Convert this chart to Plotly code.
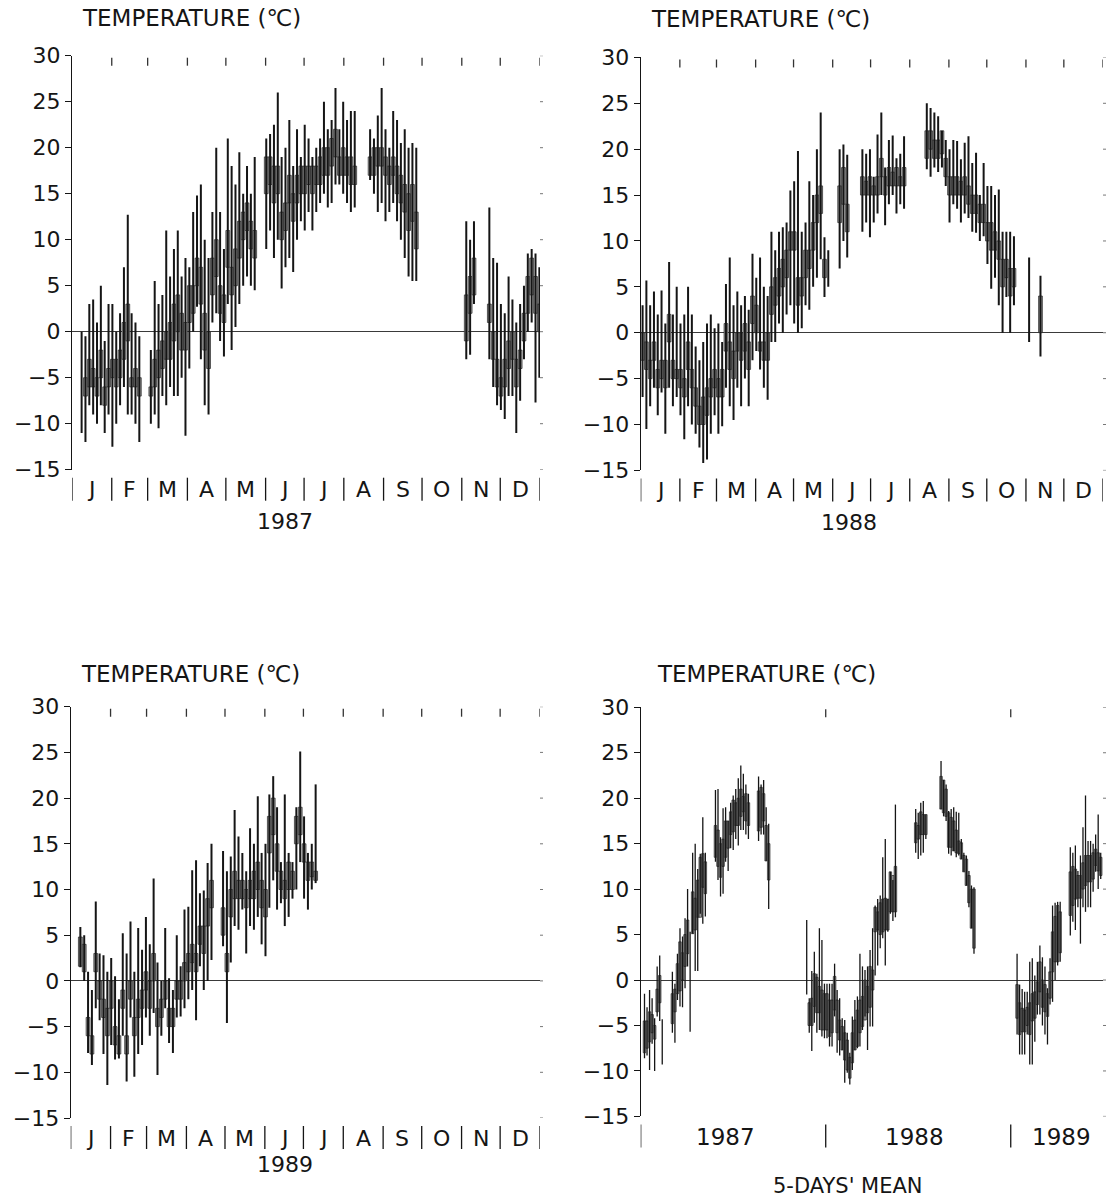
import plotly.graph_objects as go

N = None
W, H = 1111, 1201

# ---------------- data ----------------
Y_TICKS = [30, 25, 20, 15, 10, 5, 0, -5, -10, -15]
MONTH_LETTERS = ["J", "F", "M", "A", "M", "J", "J", "A", "S", "O", "N", "D"]
MONTH_DAYS_1987 = [31, 28, 31, 30, 31, 30, 31, 31, 30, 31, 30, 31]
MONTH_DAYS_1988 = [31, 29, 31, 30, 31, 30, 31, 31, 30, 31, 30, 31]
MONTH_DAYS_1989 = [31, 28, 31, 30, 31, 30, 31, 31, 30, 31, 30, 31]
YEARS = ["1987", "1988", "1989"]
TITLE = "TEMPERATURE (℃)"
MEAN_LABEL = "5-DAYS' MEAN"
DAY_STEP = 3            # days represented by one bar in the daily panels
PERIODS_PER_YEAR = 73   # 5-day periods per year

# rows: (max, min, box top, box bottom) in degC, one row per 3 days; None = no record
daily_1987 = [
    N, N, (0, -11, N, N), (-0.5, -12, -5, -7), (3, -8, -3, -6), (3.5, -9, -4, -6), (1, -10, -5, -7), (5, -8, -2, -5), (-1, -11, -6, -8), (3, -9, -4, -6),
    (3, -12.5, -3, -5), (0, -10, -3, -6), (2, -8, -2, -5), (7, -6, 1, -3), (12.7, -9, 3, -1), (2, -9, -5, -6), (1, -10, -4, -6), (-0.5, -12, -5, -7), N, N,
    (-2, -10, -6, -7), (5.5, -9, -3, -6), (3, -10.5, -2, -5), (4, -7, -1, -4), (11, -8, 0, -3), (6, -6, 1, -3), (9, -7, 3, -1), (11, -7, 4, 0), (6, -5, 2, -2), (8, -11.3, 1, -2),
    (7, -4, 5, 1), (13, 0, 5, 2), (14.8, 2.7, 8, 5), (16, -3, 7, 3), (10, -8, 2, -2), (8, -9, 0, -4), (13, 1, 8, 4), (20, 2, 10, 6), (13, -1, 5, 2), (9, -2.7, 4, 1),
    (21, 3, 11, 7), (18, -2, 7, 4), (16, 0.5, 9, 5), (19.5, 3, 12, 8), (15, 5, 13, 10), (18, 6, 14, 11), (15, 5, 12, 9), (19, 4.5, 11, 8), N, N,
    (21, 9, 19, 15), (21.5, 11, 19, 16), (22.5, 8, 18, 14), (26, 10, 18, 15), (19, 4.7, 13, 10), (20, 7, 14, 11), (23, 8, 17, 14), (18, 6.5, 15, 12), (22, 10, 17, 14), (19, 12, 18, 15),
    (22.5, 11, 18, 15), (21, 13, 18, 16), (19, 11, 18, 15), (20, 13, 18, 16), (21, 14, 19, 16), (25, 15, 20, 17), (22, 13.5, 20, 17), (23, 14, 21, 18), (26.5, 16, 22, 19), (22, 16, 19, 17),
    (25, 15, 20, 17), (23, 14, 19, 17), (24, 13, 19, 16), (24, 13.5, 18, 16), N, N, N, (22, 16.5, 19, 17), (21, 15, 20, 17), (23.5, 13, 20, 18),
    (26.5, 14, 20, 18), (22, 12, 19, 17), (20, 13, 18, 16), (24, 14, 19, 17), (23, 12, 18, 15), (20.5, 10, 17, 14), (22, 8, 16, 13), (20, 6, 15, 11), (20.5, 5.5, 16, 12), (20, 5.5, 13, 9),
    N, N, N, N, N, N, N, N, N, N,
    N, N, (12, -3, 4, -1), (10, -2.5, 6, 2), (12, 3, 8, 4), N, N, N, (13.5, -3, 3, 1), (8, -6, 0, -3),
    (7.5, -8, -3, -6), (3, -8.5, -5, -7), (2, -9.5, -3, -6), (6, -7, -1, -4), (3.5, -7, 0, -3), (1, -11, -3, -6), (3, -7.5, -2, -4), (5, -3, 2, -1), (8.5, 0, 6, 2), (9, 1, 8, 4),
    (8.5, -7.7, 6, 2), (7, -5, 3, 0),
]

daily_1988 = [
    (3, -7, 0, -3), (5.7, -10.5, -1, -4), (3, -8, -3, -5), (4.5, -6, -1, -3), (2, -9, -4, -6), (4.6, -6.5, -3, -5), (1, -11, -3, -6), (7.7, -6, 2, -1), (2, -8, -3, -5), (5, -7, -4, -5),
    (1, -9, -4, -6), (2, -11.6, -5, -7), (5, -8, -1, -4), (2, -10, -4, -6), (-1.5, -11, -6, -8), (-3, -12.5, -8, -10), (-1, -14.2, -7, -10), (1, -13.8, -6, -9), (2, -11, -5, -7), (0.5, -9, -4, -6),
    (1, -11, -5, -7), (-1, -10.2, -4, -7), (5.3, -6, 1, -2), (8.2, -8, -1, -4), (3, -9.5, -2, -5), (4.5, -6, 0, -2), (3, -8, 0, -3), (4, -5, 1, -2), (2.5, -8, -1, -4), (8.6, -3, 4, 1),
    (6, -2, 3, 0), (8.2, -4, -1, -2), (5, -6, -1, -3), (4, -7.3, 0, -3), (11, -1, 5, 2), (9, -1, 6, 3), (11, 1, 7, 4), (11.5, 0, 8, 5), (12, 2, 9, 6), (15.5, 3, 11, 9),
    (16.5, 1, 11, 9), (19.8, 0, 6, 3), (11, 0.5, 6, 4), (12, 3, 9, 6), (16.5, 2.5, 9, 7), (15, 5, 12, 9), (20, 6, 15, 12), (24, 8, 16, 13), (10.4, 3.9, 8, 6), (9, 5, N, N),
    N, N, (20, 7, 16, 12), (20.5, 10, 18, 14), (19.4, 8.2, 14, 11), N, N, N, (20, 11, 17, 15), (19.5, 12, 16.5, 15),
    (20, 10.4, 17, 15), (17, 12, 16, 15), (21.6, 13, 17, 15), (24, 15, 19, 17), (18, 11.7, 17, 15), (21, 14, 18, 16), (21.5, 15, 17.5, 16), (19, 13, 18, 16), (19.5, 14, 17, 16), (21.4, 13.5, 18, 16),
    N, N, N, N, N, (25, 17.8, 22, 19), (24.5, 17, 22, 20), (24, 18, 21, 19), (23.6, 17.5, 21, 19), (22, 18, 22, 19.5),
    (21, 16, 19, 17), (20, 12, 17, 15), (21, 14, 17, 15), (20.9, 13.5, 17, 15), (18.9, 12, 16.5, 15), (20.7, 13, 17, 15), (21.4, 12.5, 16, 14), (18.5, 11, 15, 13), (19.6, 10.9, 15, 13), (15, 10, 14, 12),
    (18.5, 10.5, 14, 12), (16, 7.5, 12, 10), (16, 4.8, 12, 9), (15, 6, 11, 9), (15.6, 3, 10, 8), (11, 0, 8, 5), (11, 3.9, 8, 6), (11, 0, 7, 4), (10.5, 3, 7, 5), N,
    N, N, (8.2, -1, N, N), N, N, (6.2, -2.6, 4, 0), N, N, N, N,
]

daily_1989 = [
    N, N, (5.9, 1.5, 4.8, 1.6), (5, 0, 4, 1), (1, -7.9, -4, -6), (-1, -9.2, -6, -8), (8.7, -3, 3, 1), (3, -4.3, 0, -2), (2.8, -8, -2, -4), (1, -11.4, -3, -6),
    (2.5, -7, 0, -3), (0.5, -8.6, -5, -7), (-2, -8.5, -6, -8), (5.2, -6, -1, -3), (3, -11, -6, -8), (6.5, -4, 0, -2), (1, -10.5, -4, -6), (5.8, -8, -2, -4), (3.4, -7, -1, -3), (7, -4, 1, -1),
    (4, -6, 0, -3), (11.2, -3.5, 3, 0), (2, -10.3, -3, -5), (0, -6, -2, -4), (5.8, -3, 0, -2), (0.3, -6.8, -3, -5), (-1, -7.9, -3, -5), (5, -4, 0, -2), (1.6, -3.9, 0, -2), (7.8, -3, 2, 0),
    (8.1, -2, 3, 1), (12.1, -1, 4, 2), (13.2, -4.3, 3, 1), (9.6, 1.6, 6, 4), (9.9, -1, 6, 3), (12.9, 0, 9, 6), (15, 2.3, 11, 8), N, N, (14.2, 3.8, 8, 5),
    (12, -4.6, 3, 1), (13.6, 2, 10, 7), (18.7, 6, 12, 9), (15.8, 5.6, 11, 9), (14, 7.8, 11, 9), (12, 3, 10, 8), (16.7, 6, 11, 9), (15, 5.6, 12, 9), (20.2, 7, 13, 10), (14, 4, 11, 8),
    (15, 2.7, 10, 7), (20.4, 8, 18, 14), (22.4, 11, 20, 16), (19, 7.8, 15, 12), (13, 8.5, 12, 10), (20.4, 6, 11, 9), (14, 7, 13, 10), (13, 9, 12, 10), (19, 10, 18, 15), (25.1, 13, 19, 16),
    (18, 9, 15, 13), (14, 7.8, 13, 11), (15, 10, 13, 11.4), (21.5, 10.7, 12, 11),
]

# 5-day means: (max, min, box top, box bottom), one row per 5-day period
mean5_1987 = [
    N, (-1.5, -8.6, -4.5, -8), (-3, -8.3, -4.5, -7.5), (-1.1, -9.9, -3.5, -6.8), (-2, -7, -3.8, -5.8), (-4.2, -10, -5, -6.5), (1.5, -4, -1, -3.5), (2.7, -4.5, 0.5, -2.5), (-4.3, -9.3, N, N), N,
    N, N, (0.9, -5.8, -1.5, -4.8), (-0.4, -6.9, -1, -3.5), (2.9, -2.2, 1.8, -1.5), (5.7, -2.9, 4.2, -1.2), (4.8, -3, 3, 0), (6.8, -0.9, 5, 1.5), (10, 1.5, 6.6, 2.9), (5.3, -5.7, N, N),
    (14, 5.1, 9.7, 5.1), (15, 1, 9, 5.5), (12.2, 1, 11, 6.9), (13.9, 7.3, 13.5, 6.9), (17.9, 6.2, 13.9, 10.2), (14, 7, 13, 9.5), N, N, N, (20.9, 13, 17, 13.5),
    (21, 11, 16.5, 12.5), (15.7, 9.2, 15, 11.3), (18.9, 9.5, 15.5, 12.5), (19, 13, 17.5, 13.5), (17.5, 12, 17.5, 14.5), (19.5, 14.5, 18.5, 16), (20.3, 14.3, 19.8, 16.3), (21, 15.5, 19.5, 17), (22.2, 14.8, 20, 17), (23.6, 16.5, 21, 18),
    (22.7, 16.5, 20.2, 18.5), (21.5, 16, 20.5, 17.5), (20.5, 15.5, 19.5, 17), N, N, N, (22.4, 15.3, 20.8, 16.4), (21.5, 16, 21.2, 16.8), (22, 16, 20.5, 17.5), (19, 13.1, 17, 13.1),
    (17.2, 7.8, 15, 11), N, N, N, N, N, N, N, N, N,
    N, N, N, N, N, (6.6, -1.6, N, N), (-2, -5.8, -2.5, -5), (1, -7.8, -2, -5), (3.1, -4.7, 0.7, -2.9), (0.7, -5.8, 0.3, -3.6),
    (5.7, -5.5, -0.7, -3.6), (4.4, -6.2, -1.1, -5.5), (-0.4, -6.4, -1.5, -5.5),
]

mean5_1988 = [
    (-0.4, -6.4, -1.5, -5.5), (-0.4, -7.3, -2.2, -6.2), (-0.4, -7.3, -2.2, -5.8), (1.8, -4, 0.4, -3.3), (-1.1, -8, -2.2, -5.8), (-2, -8.3, -4.4, -6.6), (-4.2, -7.7, -5.1, -7.7), (-4.4, -11.3, -5.8, -8.8), (-5.8, -10.2, -6.6, -9.9), (-8, -11.5, -8.5, -10.8),
    (-4, -9.9, -5.8, -9.1), (-2.2, -7.7, -4.4, -7.7), (-1.8, -7.5, -3.3, -7.3), (2.9, -7.3, -2.2, -5.8), (1.5, -5.5, -1.8, -5.1), (1.1, -4, 0, -4.4), (1.5, -7.7, -0.7, -3.6), (3.3, -5.1, 1.5, -3), (5.7, -5.1, 1.1, -1.1), (8.2, 0.5, 8, 5.3),
    (8.9, 1.6, 7.5, 5.5), (9.3, 3.5, 8.5, 5), (13.5, 4.6, 8.9, 5.3), (15.5, 1.6, 9, 5.5), (8.9, 5.3, 8.9, 5.5), (11.9, 7.3, 11.9, 7.5), (11, 6.5, 11.5, 7.5), (19.3, 6.9, 12.5, 7.5), N, N,
    N, N, N, N, N, (18.8, 14, 17.3, 15.1), (18.4, 13.3, 17, 15.5), (19.5, 13.7, 18.5, 16), (19.7, 14, 18.2, 16), (18.2, 15.5, 18.2, 16),
    N, N, N, N, N, (24.1, 18.8, 22.4, 18.8), (22, 18, 22, 18.4), (21.5, 17.5, 21, 18), (18.6, 13.9, 18.4, 14.6), (18.8, 13.7, 17.9, 14.6),
    (19, 14.2, 17.5, 14.2), (18.5, 13.5, 16.5, 14), (18.4, 13.7, 15.3, 13.9), (15.5, 13.3, 15.1, 13.3), (14, 11.9, 13.7, 11.9), (13.7, 10.4, 13.3, 10.4), (12, 8, 11.5, 8.5), (10.4, 5.7, 10, 5.7), (10.2, 2.9, 10, 3.5), N,
    N, N, N, N, N, N, N, N, N, N,
    N, N, N,
]

mean5_1989 = [
    N, N, (2.9, -6, -0.5, -4.2), (-0.5, -8.2, -2.5, -6), (-1, -8.2, -3.1, -5.7), (-1.3, -8.2, -3.3, -5.7), (-1.3, -6, -3, -5), (2, -9.3, -2.5, -6), (2.4, -9.3, -1.5, -4.5), (0.5, -6.8, -1.3, -4.2),
    (2, -3.8, -0.2, -2.7), (3.8, -3.8, 2, -1.3), (2.5, -5, 0, -3), (1.5, -6, -0.5, -3.5), (-0.9, -7.1, -1.5, -4), (2.4, -2.7, 0.9, -2), (8.2, -2.4, 5.3, 0.9), (8.5, 0, 7, 2), (8.6, 1.6, 8.2, 2), (8.6, 2, 7.5, 3),
    N, N, N, (14.6, 4.9, 11.9, 7.1), (14, 6.4, 12.5, 8.2), (14.8, 5.5, 12.2, 8.9), (12, 8, 11.5, 9), (13.7, 4, 11.5, 9), (16.8, 8, 12.9, 10), (20.3, 7.5, 13.7, 10.4),
    (15.3, 8, 13.7, 10.8), (15.3, 8, 13.7, 10.8), (15, 9.7, 14, 11.1), (16, 11.9, 14.4, 12.6), (18.2, 10, 14, 12), (14, 11.1, 13.5, 11.5), N,
]

# ---------------- styling / layout ----------------
INK = "#151515"
GRAY = "#9a9a9a"
EDGE = "#222222"
FONT = "DejaVu Sans"

# pixel boxes of the four plotting areas: (left, right, top(30C), bottom(-15C))
PANELS = [
    (72.0, 540.0, 55.7, 469.7),
    (640.7, 1103.0, 57.4, 470.4),
    (70.7, 540.0, 706.7, 1118.0),
    (640.7, 1103.0, 707.3, 1116.4),
]


def fx(px):
    return px / W


def fy(py):
    return 1 - py / H


fig = go.Figure()


def add_series(rows, xs, idx, box_width, lw, edge_w):
    sfx = "" if idx == 1 else str(idx)
    lx, ly, bx, bb, bh = [], [], [], [], []
    for x, r in zip(xs, rows):
        if r is None:
            continue
        hi, lo, top, bot = r
        lx += [x, x, None]
        ly += [lo, hi, None]
        if top is not None:
            bx.append(x)
            bb.append(bot)
            bh.append(top - bot)
    fig.add_trace(go.Bar(x=bx, y=bh, base=bb, width=box_width,
                         marker=dict(color=GRAY, line=dict(color=EDGE, width=edge_w)),
                         xaxis="x" + sfx, yaxis="y" + sfx, hoverinfo="skip", showlegend=False))
    fig.add_trace(go.Scatter(x=lx, y=ly, mode="lines", line=dict(color=INK, width=lw),
                             xaxis="x" + sfx, yaxis="y" + sfx, hoverinfo="skip", showlegend=False))


def cumulative(days):
    c = [0]
    for d in days:
        c.append(c[-1] + d)
    return c


daily_sets = [(daily_1987, MONTH_DAYS_1987), (daily_1988, MONTH_DAYS_1988), (daily_1989, MONTH_DAYS_1989)]
for k, (rows, mdays) in enumerate(daily_sets):
    xs = [i * DAY_STEP + DAY_STEP / 2 for i in range(len(rows))]
    add_series(rows, xs, k + 1, DAY_STEP, 2.0, 0.7)

for k, rows in enumerate([mean5_1987, mean5_1988, mean5_1989]):
    xs = [k * PERIODS_PER_YEAR + p + 0.5 for p in range(len(rows))]
    add_series(rows, xs, 4, 1.0, 1.3, 0.7)

layout = dict(template="none", width=W, height=H, autosize=False,
              margin=dict(l=0, r=0, t=0, b=0, pad=0, autoexpand=False),
              paper_bgcolor="white", plot_bgcolor="white", showlegend=False,
              barmode="overlay", font=dict(family=FONT, color=INK))

annotations = []
shapes = []

x_ranges = [
    [0, sum(MONTH_DAYS_1987)],
    [0, sum(MONTH_DAYS_1988)],
    [0, sum(MONTH_DAYS_1989)],
    [0, 182.4],
]

for i, (l, r, t, b) in enumerate(PANELS):
    n = i + 1
    sfx = "" if n == 1 else str(n)
    xr = x_ranges[i]
    layout["xaxis" + sfx] = dict(domain=[fx(l), fx(r)], anchor="y" + sfx, range=xr,
                                 showline=False, ticks="", showticklabels=False, automargin=False,
                                 showgrid=False, zeroline=False, fixedrange=True)
    layout["yaxis" + sfx] = dict(domain=[fy(b), fy(t)], anchor="x" + sfx, range=[-15, 30],
                                 tickvals=Y_TICKS, ticks="outside", ticklen=6, tickwidth=1.2,
                                 tickcolor=INK, showline=True, linecolor=INK, linewidth=1.3,
                                 zeroline=True, zerolinecolor="#3a3a3a", zerolinewidth=1.1,
                                 showgrid=False, automargin=False,
                                 tickfont=dict(size=22, family=FONT, color=INK),
                                 fixedrange=True)
    # top ticks at month / year boundaries
    if n <= 3:
        cum = cumulative(daily_sets[i][1])
        top_vals = cum[1:]
    else:
        top_vals = [PERIODS_PER_YEAR, 2 * PERIODS_PER_YEAR]
    for v in top_vals:
        shapes.append(dict(type="line", xref="x" + sfx, yref="paper", x0=v, x1=v,
                           y0=fy(t + 2), y1=fy(t + 10), line=dict(color="#333", width=1.3)))
    # small marks on the right edge
    for v in Y_TICKS:
        shapes.append(dict(type="line", xref="paper", yref="y" + sfx, x0=fx(r), x1=fx(r + 3),
                           y0=v, y1=v, line=dict(color="#777", width=1)))
    # title
    annotations.append(dict(text=TITLE, xref="paper", yref="paper",
                            x=fx(l + (8 if n != 4 else 14)), y=fy(t - (38 if n <= 2 else 33)),
                            xanchor="left", yanchor="middle", showarrow=False,
                            font=dict(size=23, family=FONT, color=INK)))
    sep_top, sep_bot = b + 8, b + 31
    if n <= 3:
        cum = cumulative(daily_sets[i][1])
        for m in range(13):
            shapes.append(dict(type="line", xref="x" + sfx, yref="paper", x0=cum[m], x1=cum[m],
                               y0=fy(sep_top), y1=fy(sep_bot), line=dict(color=INK, width=1.3)))
        for m in range(12):
            annotations.append(dict(text=MONTH_LETTERS[m], xref="x" + sfx, yref="paper",
                                    x=(cum[m] + cum[m + 1]) / 2, y=fy(b + 20), xanchor="center",
                                    yanchor="middle", showarrow=False,
                                    font=dict(size=22, family=FONT, color=INK)))
        annotations.append(dict(text=YEARS[i], xref="paper", yref="paper", x=fx(285 if n != 2 else 849),
                                y=fy(b + (52 if n != 3 else 46)), xanchor="center", yanchor="middle",
                                showarrow=False, font=dict(size=22, family=FONT, color=INK)))
    else:
        for k in range(3):
            xv = k * PERIODS_PER_YEAR
            shapes.append(dict(type="line", xref="x" + sfx, yref="paper", x0=xv, x1=xv,
                               y0=fy(sep_top), y1=fy(sep_bot), line=dict(color=INK, width=1.3)))
        for k, cx in enumerate([725, 914, 1061]):
            annotations.append(dict(text=YEARS[k], xref="paper", yref="paper", x=fx(cx),
                                    y=fy(b + 21), xanchor="center", yanchor="middle", showarrow=False,
                                    font=dict(size=23, family=FONT, color=INK)))
        annotations.append(dict(text=MEAN_LABEL, xref="paper", yref="paper", x=fx(848), y=fy(1186),
                                xanchor="center", yanchor="middle", showarrow=False,
                                font=dict(size=21, family=FONT, color=INK)))

layout["annotations"] = annotations
layout["shapes"] = shapes
fig.update_layout(**layout)
fig.write_html("out.html", config={"displayModeBar": False},
               post_script="document.body.style.margin='0';document.body.style.overflow='hidden';")
